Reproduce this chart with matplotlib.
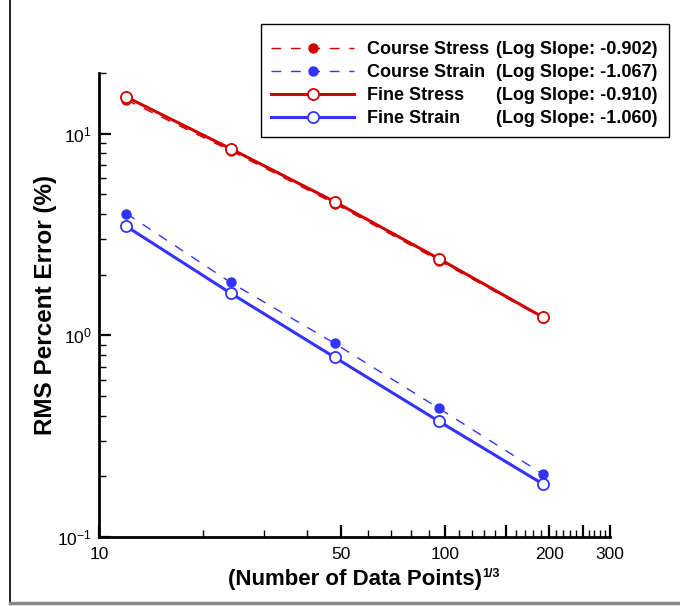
import matplotlib
matplotlib.use("Agg")
import matplotlib.pyplot as plt
from matplotlib.lines import Line2D
from matplotlib.patches import Rectangle
from matplotlib.ticker import FixedLocator, NullFormatter, FuncFormatter, LogLocator

# ---- data ----
points = [12, 24, 48, 96, 192]  # (number of data points)^(1/3)
course_stress = [14.7, 8.24, 4.50, 2.35, 1.22]
course_strain = [4.02, 1.83, 0.912, 0.435, 0.205]
fine_stress = [15.2, 8.43, 4.60, 2.40, 1.23]
fine_strain = [3.47, 1.62, 0.778, 0.375, 0.183]

series_names = ["Course Stress", "Course Strain", "Fine Stress", "Fine Strain"]
log_slopes = ["(Log Slope: -0.902)", "(Log Slope: -1.067)",
              "(Log Slope: -0.910)", "(Log Slope: -1.060)"]

x_major = [10, 50, 100, 150, 200, 250, 300]
x_labeled = [10, 50, 100, 200, 300]
x_minor = [v for v in range(20, 300, 10) if v not in x_major]

RED = "#d00000"
BLUE = "#3333ff"

plt.rcParams["font.family"] = ["Liberation Sans", "DejaVu Sans"]

W, H = 680, 606
fig = plt.figure(figsize=(W / 100, H / 100), dpi=100)
ax = fig.add_axes([99 / W, 1 - 537 / H, (610 - 99) / W, (537 - 73) / H])
ax.set_xscale("log")
ax.set_yscale("log")

h1, = ax.plot(points, course_stress, color=RED, lw=1.0, dashes=(7, 7),
              marker="o", ms=6.5, mfc=RED, mec=RED, zorder=3)
h2, = ax.plot(points, course_strain, color=BLUE, lw=1.0, dashes=(7, 7),
              marker="o", ms=6.5, mfc=BLUE, mec=BLUE, zorder=3)
h3, = ax.plot(points, fine_stress, color=RED, lw=2.2, marker="o", ms=8,
              mfc="white", mec=RED, mew=1.3, zorder=4)
h4, = ax.plot(points, fine_strain, color=BLUE, lw=2.2, marker="o", ms=8,
              mfc="white", mec=BLUE, mew=1.3, zorder=4)

ax.set_xlim(10, 300)
ax.set_ylim(0.1, 20)

for side in ("top", "right"):
    ax.spines[side].set_visible(False)
for side in ("left", "bottom"):
    ax.spines[side].set_linewidth(2.0)

ax.xaxis.set_major_locator(FixedLocator(x_major))
ax.xaxis.set_minor_locator(FixedLocator(x_minor))
ax.xaxis.set_major_formatter(FuncFormatter(lambda v, p: f"{int(round(v))}" if int(round(v)) in x_labeled else ""))
ax.xaxis.set_minor_formatter(NullFormatter())
ax.yaxis.set_major_locator(LogLocator(base=10, numticks=10))
ax.yaxis.set_minor_locator(LogLocator(base=10, subs=range(2, 10), numticks=20))
ax.yaxis.set_minor_formatter(NullFormatter())

ax.tick_params(which="major", direction="in", length=8.5, width=1.6, labelsize=12.5, pad=7)
ax.tick_params(axis="y", which="major", pad=5.5)
ax.tick_params(which="minor", direction="in", length=5, width=1.0)

ax.set_xlabel("(Number of Data Points)", fontsize=16, fontweight="bold")
ax.xaxis.set_label_coords(0.5, -0.068)
ax.set_ylabel("RMS Percent Error (%)", fontsize=17.5, fontweight="bold")
ax.yaxis.set_label_coords(-0.082, 0.5)

# legend box
leg_size = 13
fig.add_artist(Rectangle((261 / W, 1 - 137 / H), (669 - 261) / W, (137 - 24) / H,
                         transform=fig.transFigure, facecolor="white",
                         edgecolor="black", lw=1.0, zorder=5))
leg = fig.legend([h1, h2, h3, h4], series_names, loc="upper left",
                 bbox_to_anchor=(271 / W, 1 - 41 / H), frameon=False,
                 prop={"size": leg_size, "weight": "bold"},
                 handlelength=4.6, handletextpad=0.72, labelspacing=0.33,
                 borderpad=0, borderaxespad=0, numpoints=1)
leg.set_zorder(6)

fig.canvas.draw()
renderer = fig.canvas.get_renderer()
for t, s in zip(leg.get_texts(), log_slopes):
    bb = t.get_window_extent(renderer)
    yc = (bb.y0 + bb.y1) / 2 / fig.bbox.height
    fig.text(657 / W, yc, s, ha="right", va="center", fontsize=leg_size,
             fontweight="bold", zorder=7)

# exponent after the x-axis title
xb = ax.xaxis.label.get_window_extent(renderer)
fig.text((xb.x1 + 1) / fig.bbox.width, (xb.y1 + 1) / fig.bbox.height, "1/3",
         ha="left", va="top", fontsize=9, fontweight="bold")

# outer frame
fig.add_artist(Line2D([10 / W, 10 / W], [1 - 603 / H, 1], color="black", lw=1.2))
fig.add_artist(Line2D([10 / W, 1], [1 - 603 / H, 1 - 603 / H], color="#888888", lw=2.5))

fig.savefig("out.png", dpi=100)
